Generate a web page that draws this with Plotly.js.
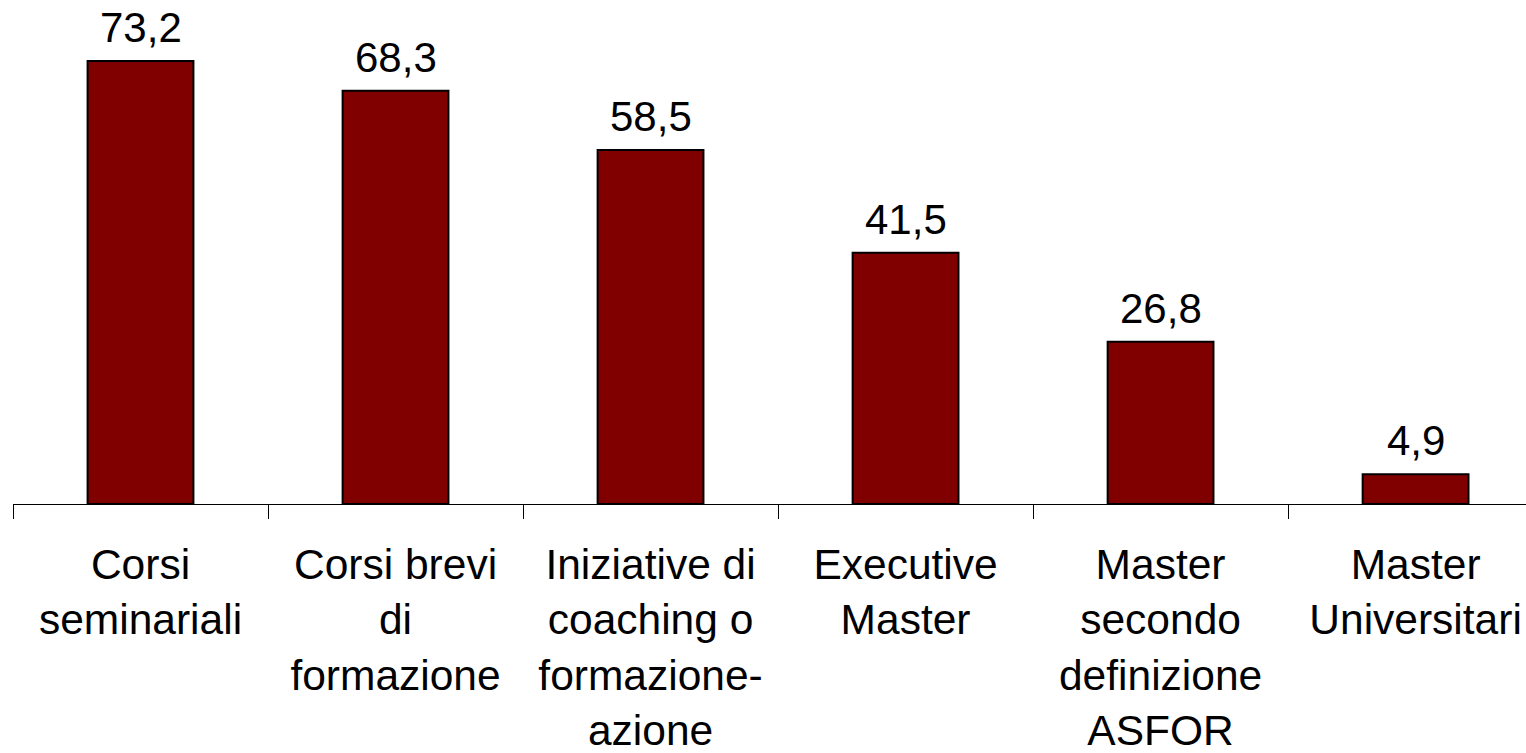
<!DOCTYPE html>
<html>
<head>
<meta charset="utf-8">
<script src="https://cdn.plot.ly/plotly-3.0.1.min.js"></script>
<style>html,body{margin:0;padding:0;background:#fff;}#chart{width:1526px;height:753px;}</style>
</head>
<body>
<div id="chart"></div>
<script>
const categories = [
  "Corsi<br>seminariali",
  "Corsi brevi<br>di<br>formazione",
  "Iniziative di<br>coaching o<br>formazione-<br>azione",
  "Executive<br>Master",
  "Master<br>secondo<br>definizione<br>ASFOR",
  "Master<br>Universitari"
];
const values = [73.2, 68.3, 58.5, 41.5, 26.8, 4.9];

const FONT = 'Liberation Sans, Arial, sans-serif';

const trace = {
  type: 'bar',
  x: categories,
  y: values,
  width: 0.415,
  marker: {color: '#800000', line: {color: '#000000', width: 2}},
  cliponaxis: false,
  hoverinfo: 'none'
};

const annotations = categories.map((c, i) => ({
  x: c, y: values[i], xref: 'x', yref: 'y',
  text: values[i].toFixed(1).replace('.', ','),
  showarrow: false, yanchor: 'bottom', xanchor: 'center',
  yshift: 8,
  font: {family: FONT, size: 42, color: '#000'}
}));

const layout = {
  width: 1526, height: 753,
  margin: {l: 13, r: 0, t: 0, b: 249},
  paper_bgcolor: '#fff', plot_bgcolor: '#fff',
  showlegend: false,
  font: {family: FONT, size: 42.5, color: '#000'},
  annotations: annotations,
  xaxis: {
    type: 'category',
    range: [-0.5, 5.433],
    showline: true, linecolor: '#000', linewidth: 1,
    ticks: 'outside', tickson: 'boundaries', ticklen: 14, tickcolor: '#000', tickwidth: 1,
    showgrid: false, zeroline: false,
    tickfont: {family: FONT, size: 42.5, color: '#000'},
    ticklabelstandoff: 23
  },
  yaxis: {
    range: [0, 83.28],
    visible: false, showgrid: false, zeroline: false
  }
};

Plotly.newPlot('chart', [trace], layout, {staticPlot: true, displayModeBar: false});
</script>
</body>
</html>
